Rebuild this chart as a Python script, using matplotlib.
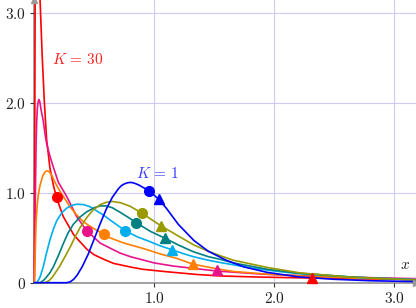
import numpy as np
import matplotlib.pyplot as plt

plt.rcParams['mathtext.fontset'] = 'cm'
plt.rcParams['font.family'] = 'DejaVu Serif'

# curves, from K = 1 (blue) to K = 30 (red)
x_blue = [0, 0.27, 0.3, 0.33, 0.36, 0.4, 0.45, 0.5, 0.55, 0.6, 0.65, 0.7, 0.725, 0.75, 0.775, 0.8, 0.825,
          0.85, 0.875, 0.9, 0.925, 0.953, 0.99, 1.036, 1.1, 1.2, 1.33, 1.45, 1.6, 1.75, 1.94, 2.2, 2.5,
          2.8, 3.18]
y_blue = [0, 0, 0.01, 0.04, 0.09, 0.18, 0.32, 0.49, 0.66, 0.82, 0.95, 1.045, 1.08, 1.1, 1.112, 1.117,
          1.112, 1.1, 1.085, 1.065, 1.048, 1.026, 0.985, 0.93, 0.83, 0.65, 0.47, 0.35, 0.25, 0.175,
          0.115, 0.065, 0.038, 0.022, 0.012]

x_olive = [0, 0.09, 0.12, 0.15, 0.18, 0.21, 0.26, 0.3, 0.34, 0.38, 0.44, 0.49, 0.55, 0.6, 0.65, 0.72,
           0.8, 0.897, 0.98, 1.056, 1.2, 1.33, 1.45, 1.55, 1.66, 1.8, 1.94, 2.21, 2.6, 3.18]
y_olive = [0, 0, 0.02, 0.06, 0.12, 0.18, 0.3, 0.4, 0.51, 0.61, 0.73, 0.81, 0.87, 0.895, 0.905, 0.89,
           0.85, 0.774, 0.7, 0.633, 0.52, 0.42, 0.35, 0.3, 0.25, 0.21, 0.17, 0.11, 0.065, 0.03]

x_teal = [0, 0.05, 0.08, 0.1, 0.13, 0.16, 0.2, 0.24, 0.28, 0.325, 0.38, 0.437, 0.5, 0.55, 0.6, 0.65,
          0.72, 0.78, 0.847, 0.97, 1.086, 1.2, 1.325, 1.45, 1.55, 1.66, 1.8, 1.94, 2.21, 2.63, 3.18]
y_teal = [0, 0, 0.03, 0.06, 0.11, 0.18, 0.3, 0.43, 0.55, 0.65, 0.73, 0.79, 0.835, 0.855, 0.855, 0.835,
          0.78, 0.73, 0.67, 0.57, 0.497, 0.42, 0.345, 0.29, 0.26, 0.22, 0.185, 0.15, 0.105, 0.065, 0.03]

x_cyan = [0, 0.02, 0.035, 0.05, 0.075, 0.1, 0.13, 0.16, 0.187, 0.23, 0.27, 0.31, 0.353, 0.41, 0.464,
          0.52, 0.575, 0.63, 0.714, 0.758, 0.86, 0.964, 1.05, 1.147, 1.25, 1.325, 1.45, 1.55, 1.8, 2.0,
          2.21, 2.7, 3.18]
y_cyan = [0, 0, 0.03, 0.07, 0.18, 0.32, 0.475, 0.6, 0.69, 0.78, 0.83, 0.86, 0.874, 0.87, 0.846,
          0.8, 0.754, 0.7, 0.62, 0.578, 0.51, 0.457, 0.41, 0.367, 0.32, 0.29, 0.25, 0.225, 0.165, 0.13,
          0.1, 0.058, 0.035]

x_orange = [0, 0.005, 0.01, 0.015, 0.025, 0.035, 0.047, 0.07, 0.09, 0.105, 0.12, 0.14, 0.172, 0.2, 0.242,
            0.3, 0.35, 0.4, 0.45, 0.5, 0.578, 0.63, 0.75, 0.91, 1.05, 1.19, 1.32, 1.52, 1.66, 1.94, 2.3,
            2.7, 3.18]
y_orange = [0, 0.2, 0.45, 0.68, 0.88, 0.99, 1.08, 1.19, 1.235, 1.245, 1.24, 1.21, 1.12, 1.05, 0.96,
            0.84, 0.76, 0.69, 0.64, 0.6, 0.54, 0.5, 0.44, 0.38, 0.32, 0.27, 0.207, 0.155, 0.125, 0.095,
            0.07, 0.05, 0.035]

x_pink = [0, 0.004, 0.008, 0.015, 0.02, 0.025, 0.03, 0.037, 0.045, 0.05, 0.06, 0.075, 0.09, 0.103, 0.13,
          0.158, 0.2, 0.27, 0.3, 0.353, 0.436, 0.55, 0.714, 0.8, 1.0, 1.16, 1.52, 1.9, 2.5, 3.18]
y_pink = [0, 0.4, 0.9, 1.55, 1.8, 1.93, 2.0, 2.04, 2.02, 1.98, 1.9, 1.8, 1.65, 1.55, 1.41,
          1.29, 1.12, 0.96, 0.88, 0.735, 0.58, 0.44, 0.33, 0.29, 0.22, 0.185, 0.13, 0.095, 0.065, 0.045]

x_red = [0, 0.008, 0.025, 0.048, 0.065, 0.083, 0.103, 0.13, 0.16, 0.187, 0.24, 0.27, 0.33, 0.44, 0.5,
         0.58, 0.66, 0.8, 0.9, 1.08, 1.35, 1.55, 1.9, 2.31, 2.7, 3.18]
y_red = [0, 3.6, 3.9, 3.15, 2.55, 2.03, 1.59, 1.28, 1.08, 0.94, 0.74, 0.67, 0.53, 0.37, 0.31,
         0.26, 0.215, 0.175, 0.15, 0.125, 0.092, 0.075, 0.062, 0.052, 0.043, 0.035]

# marked points on each curve: circles and triangles
circ_x = [0.953, 0.897, 0.847, 0.758, 0.578, 0.436, 0.189]
circ_y = [1.026, 0.774, 0.67, 0.578, 0.54, 0.58, 0.95]
tri_x = [1.036, 1.056, 1.086, 1.147, 1.32, 1.52, 2.31]
tri_y = [0.93, 0.633, 0.497, 0.367, 0.207, 0.137, 0.052]

colors = ['#0000ff', '#999900', '#008080', '#00aeef', '#ff7f00', '#e8138a', '#ff0000']
curves = [(x_blue, y_blue), (x_olive, y_olive), (x_teal, y_teal), (x_cyan, y_cyan),
          (x_orange, y_orange), (x_pink, y_pink), (x_red, y_red)]

fig = plt.figure(figsize=(4.16, 3.08), dpi=100)
ax = fig.add_axes([0, 0, 1, 1])
xmin, xmax = -34.3 / 120, (416 - 34.3) / 120
ymin, ymax = -(308 - 282.7) / 89.8, 282.7 / 89.8
ax.set_xlim(xmin, xmax)
ax.set_ylim(ymin, ymax)

grid_c = '#ccccf2'
for g in [1, 2, 3]:
    ax.plot([g, g], [0, ymax], color=grid_c, lw=0.8, zorder=0)
    ax.plot([0, xmax], [g, g], color=grid_c, lw=0.8, zorder=0)

# draw back to front so K=1 ends on top like the original
for (xs, ys), c in zip(curves[::-1], colors[::-1]):
    ax.plot(xs, ys, color=c, lw=1.2, zorder=2)

for i, c in enumerate(colors):
    ax.plot(circ_x[i], circ_y[i], 'o', color=c, ms=7, zorder=3)
    ax.plot(tri_x[i], tri_y[i], '^', color=c, ms=7, zorder=3)

# axes through the origin with arrowheads
for s in ['top', 'right']:
    ax.spines[s].set_visible(False)
ax.spines['left'].set_position(('data', 0))
ax.spines['bottom'].set_position(('data', 0))
ax.spines['left'].set_bounds(0, ymax)
ax.spines['bottom'].set_bounds(0, xmax)
for s in ['left', 'bottom']:
    ax.spines[s].set_color('#9a9a9a')
    ax.spines[s].set_linewidth(1.3)
    ax.spines[s].set_zorder(1)
ax.plot(0, 1, '^', color='#9a9a9a', ms=4, transform=ax.get_xaxis_transform(), clip_on=False)
ax.plot(1, 0, '>', color='#9a9a9a', ms=4, transform=ax.get_yaxis_transform(), clip_on=False)

ax.set_xticks([1, 2, 3], ['$1.0$', '$2.0$', '$3.0$'])
ax.set_yticks([0, 1, 2, 3], ['$0$', '$1.0$', '$2.0$', '$3.0$'])
ax.tick_params(direction='out', length=3, width=0.8, color='#333333', labelsize=11,
               labelcolor='#222222', pad=3)

ax.text(0.15, 2.48, r'$K\,=\,30$', color='#ff2020', fontsize=11, va='center')
ax.text(0.85, 1.22, r'$K\,=\,1$', color='#3a3aff', fontsize=11, va='center')
ax.text(3.09, 0.2, r'$x$', color='#222222', fontsize=11, va='center', ha='center')

fig.savefig('out.png', dpi=100)
